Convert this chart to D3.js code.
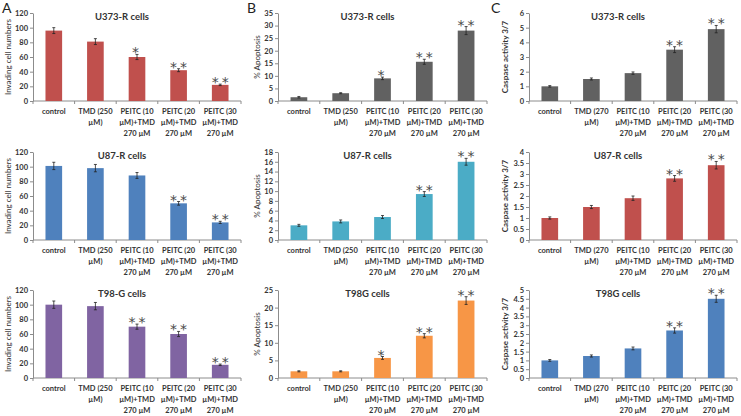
<!DOCTYPE html>
<html>
<head>
<meta charset="utf-8">
<script src="https://cdn.jsdelivr.net/npm/d3@7"></script>
<style>
  body { margin: 0; background: #fff; }
  svg { display: block; font-family: Lato, "Open Sans", sans-serif; }
</style>
</head>
<body>
<svg id="fig" width="741" height="416"></svg>
<script>
// categories (label lines)
var catsAB = [['control'], ['TMD (250', 'µM)'], ['PEITC (10', 'µM)+TMD', '270 µM'], ['PEITC (20', 'µM)+TMD', '270 µM'], ['PEITC (30', 'µM)+TMD', '270 µM']]
var catsC = [['control'], ['TMD (270', 'µM)'], ['PEITC (10', 'µM)+TMD', '270 µM'], ['PEITC (20', 'µM)+TMD', '270 µM'], ['PEITC (30', 'µM)+TMD', '270 µM']]

// A: invasion
var invU373 = [96, 81, 60, 42, 22]
var invU373Err = [4, 4, 3.5, 2, 1]
var invU87 = [101, 98, 88, 50, 24]
var invU87Err = [5, 5, 4, 2.5, 1.5]
var invT98 = [100, 98, 70, 60, 18]
var invT98Err = [5, 5, 3.5, 3.5, 1]

// B: apoptosis
var apoU373 = [1.5, 3.1, 9, 15.6, 28]
var apoU373Err = [0.3, 0.2, 0.5, 1, 1.6]
var apoU87 = [3.0, 3.8, 4.7, 9.4, 16]
var apoU87Err = [0.2, 0.3, 0.3, 0.5, 0.7]
var apoT98 = [1.9, 1.9, 5.7, 12, 22]
var apoT98Err = [0.15, 0.15, 0.4, 0.6, 1.1]

// C: caspase 3/7
var casU373 = [1.0, 1.5, 1.9, 3.5, 4.9]
var casU373Err = [0.05, 0.07, 0.08, 0.2, 0.25]
var casU87 = [1.0, 1.5, 1.9, 2.8, 3.4]
var casU87Err = [0.05, 0.07, 0.1, 0.13, 0.17]
var casT98 = [1.0, 1.25, 1.68, 2.7, 4.5]
var casT98Err = [0.05, 0.06, 0.08, 0.15, 0.2]

// significance marks
var starsA1 = ['', '', '*', '**', '**']
var starsA2 = ['', '', '', '**', '**']
var starsA3 = ['', '', '**', '**', '**']
var starsB1 = ['', '', '*', '**', '**']
var starsB2 = ['', '', '', '**', '**']
var starsB3 = ['', '', '*', '**', '**']
var starsC = ['', '', '', '**', '**']

// y ticks
var ticksA = [0, 20, 40, 60, 80, 100, 120]
var ticksB1 = [0, 5, 10, 15, 20, 25, 30, 35]
var ticksB2 = [0, 2, 4, 6, 8, 10, 12, 14, 16, 18]
var ticksB3 = [0, 5, 10, 15, 20, 25]
var ticksC1 = [0, 1, 2, 3, 4, 5, 6]
var ticksC2 = [0, 0.5, 1, 1.5, 2, 2.5, 3, 3.5, 4]
var ticksC3 = [0, 0.5, 1, 1.5, 2, 2.5, 3, 3.5, 4, 4.5, 5]

var cols = [
  { x0: 33, x1: 241, yTitle: 'Invading cell numbers', titleX: 7, titleWeight: 'normal', cats: catsAB, label: 'A', labelX: 2 },
  { x0: 278, x1: 487, yTitle: '% Apoptosis', titleX: 256, titleWeight: 'normal', cats: catsAB, label: 'B', labelX: 247 },
  { x0: 529, x1: 737, yTitle: 'Caspase activity 3/7', titleX: 504, titleWeight: 'bold', cats: catsC, label: 'C', labelX: 491 }
]
var rows = [{ top: 13, bottom: 101 }, { top: 152, bottom: 240 }, { top: 290, bottom: 378 }]

var panels = [
  { col: 0, row: 0, title: 'U373-R cells', vals: invU373, err: invU373Err, stars: starsA1, ticks: ticksA, color: '#C0504D' },
  { col: 0, row: 1, title: 'U87-R cells', vals: invU87, err: invU87Err, stars: starsA2, ticks: ticksA, color: '#4F81BD' },
  { col: 0, row: 2, title: 'T98-G cells', vals: invT98, err: invT98Err, stars: starsA3, ticks: ticksA, color: '#8064A2' },
  { col: 1, row: 0, title: 'U373-R cells', vals: apoU373, err: apoU373Err, stars: starsB1, ticks: ticksB1, color: '#616161' },
  { col: 1, row: 1, title: 'U87-R cells', vals: apoU87, err: apoU87Err, stars: starsB2, ticks: ticksB2, color: '#4BACC6' },
  { col: 1, row: 2, title: 'T98G cells', vals: apoT98, err: apoT98Err, stars: starsB3, ticks: ticksB3, color: '#F79646' },
  { col: 2, row: 0, title: 'U373-R cells', vals: casU373, err: casU373Err, stars: starsC, ticks: ticksC1, color: '#616161' },
  { col: 2, row: 1, title: 'U87-R cells', vals: casU87, err: casU87Err, stars: starsC, ticks: ticksC2, color: '#C0504D' },
  { col: 2, row: 2, title: 'T98G cells', vals: casT98, err: casT98Err, stars: starsC, ticks: ticksC3, color: '#4F81BD' }
]

var svg = d3.select('#fig')
var axisColor = '#8c8c8c'
var textColor = '#333'

cols.forEach(function(c) {
  svg.append('text')
    .attr('x', c.labelX)
    .attr('y', 13)
    .attr('font-size', 14)
    .attr('fill', '#222')
    .text(c.label)
})

panels.forEach(function(p) {
  var c = cols[p.col],
    r = rows[p.row],
    g = svg.append('g'),
    idx = d3.range(p.vals.length)

  var x = d3.scaleBand().domain(idx).range([c.x0, c.x1]).paddingInner(0.6).paddingOuter(0.3)
  var y = d3.scaleLinear().domain([0, d3.max(p.ticks)]).range([r.bottom, r.top])

  // y axis
  var yAxis = d3.axisLeft(y).tickValues(p.ticks).tickFormat(d3.format('~g')).tickSize(3).tickSizeOuter(0)
  var ya = g.append('g').attr('transform', 'translate(' + c.x0 + ',0)').call(yAxis)
  ya.select('.domain').attr('stroke', axisColor)
  ya.selectAll('.tick line').attr('stroke', axisColor)
  ya.selectAll('.tick text')
    .attr('font-size', 7.5)
    .attr('font-weight', 'bold')
    .attr('fill', textColor)
    .attr('font-family', 'Lato, sans-serif')
    .attr('x', -5)

  // x axis baseline + separator ticks
  g.append('line')
    .attr('x1', c.x0).attr('x2', c.x1)
    .attr('y1', r.bottom).attr('y2', r.bottom)
    .attr('stroke', axisColor)
  g.selectAll('line.sep')
    .data(d3.range(p.vals.length + 1))
    .enter()
    .append('line')
    .attr('class', 'sep')
    .attr('x1', function(i) { return c.x0 + (c.x1 - c.x0) * i / p.vals.length })
    .attr('x2', function(i) { return c.x0 + (c.x1 - c.x0) * i / p.vals.length })
    .attr('y1', r.bottom)
    .attr('y2', r.bottom + 3)
    .attr('stroke', axisColor)

  // bars
  g.selectAll('rect.bar')
    .data(idx)
    .enter()
    .append('rect')
    .attr('class', 'bar')
    .attr('x', function(i) { return x(i) })
    .attr('width', x.bandwidth())
    .attr('y', function(i) { return y(p.vals[i]) })
    .attr('height', function(i) { return r.bottom - y(p.vals[i]) })
    .attr('fill', p.color)

  // error bars
  var eb = g.selectAll('g.err').data(idx).enter().append('g').attr('class', 'err')
  eb.append('line')
    .attr('x1', function(i) { return x(i) + x.bandwidth() / 2 })
    .attr('x2', function(i) { return x(i) + x.bandwidth() / 2 })
    .attr('y1', function(i) { return y(p.vals[i] - p.err[i]) })
    .attr('y2', function(i) { return y(p.vals[i] + p.err[i]) })
    .attr('stroke', '#222').attr('stroke-width', 0.8)
  ;[-1, 1].forEach(function(s) {
    eb.append('line')
      .attr('x1', function(i) { return x(i) + x.bandwidth() / 2 - 1.5 })
      .attr('x2', function(i) { return x(i) + x.bandwidth() / 2 + 1.5 })
      .attr('y1', function(i) { return y(p.vals[i] + s * p.err[i]) })
      .attr('y2', function(i) { return y(p.vals[i] + s * p.err[i]) })
      .attr('stroke', '#222').attr('stroke-width', 0.8)
  })

  // stars
  g.selectAll('text.star')
    .data(idx.filter(function(i) { return p.stars[i] }))
    .enter()
    .append('text')
    .attr('class', 'star')
    .attr('x', function(i) { return x(i) + x.bandwidth() / 2 + (p.stars[i].length > 1 ? 1.5 : 0) })
    .attr('y', function(i) { return y(p.vals[i] + p.err[i]) + 3 })
    .attr('text-anchor', 'middle')
    .attr('font-family', 'DejaVu Sans, sans-serif')
    .attr('font-size', 14)
    .attr('letter-spacing', 3)
    .attr('fill', '#4a4a4a')
    .text(function(i) { return p.stars[i] })

  // category labels
  var cl = g.selectAll('text.cat')
    .data(idx)
    .enter()
    .append('text')
    .attr('class', 'cat')
    .attr('text-anchor', 'middle')
    .attr('font-size', 7.5)
    .attr('font-weight', 'bold')
    .attr('fill', textColor)
  cl.selectAll('tspan')
    .data(function(i) { return c.cats[i].map(function(t) { return { t: t, i: i } }) })
    .enter()
    .append('tspan')
    .attr('x', function(d) { return x(d.i) + x.bandwidth() / 2 })
    .attr('y', function(d, k) { return r.bottom + 13 + k * 11 })
    .text(function(d) { return d.t })

  // panel title
  g.append('text')
    .attr('x', (c.x0 + c.x1) / 2 - 15)
    .attr('y', r.top + 7)
    .attr('text-anchor', 'middle')
    .attr('font-size', 9.5)
    .attr('font-weight', 'bold')
    .attr('fill', textColor)
    .text(p.title)

  // y title
  g.append('text')
    .attr('transform', 'translate(' + (c.titleX + 4) + ',' + (r.top + r.bottom) / 2 + ') rotate(-90)')
    .attr('text-anchor', 'middle')
    .attr('font-size', 8)
    .attr('font-weight', c.titleWeight)
    .attr('fill', textColor)
    .text(c.yTitle)
})
</script>
</body>
</html>
